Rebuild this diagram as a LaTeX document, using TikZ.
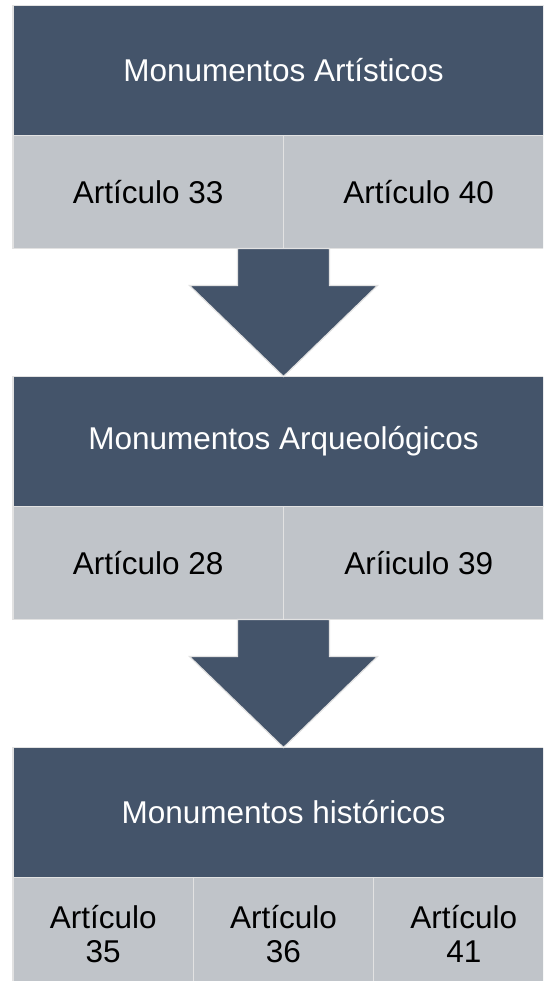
\documentclass[tikz,border=0pt]{standalone}
\usepackage{fontspec}
\setmainfont{Liberation Sans}
\usetikzlibrary{calc,positioning}
\definecolor{slate}{HTML}{44546A}
\definecolor{cellgray}{HTML}{C0C4C9}
\definecolor{edgegray}{HTML}{E2E2E2}
\begin{document}
\begin{tikzpicture}[x=1pt, y=1pt,
    heading/.style={rectangle, fill=slate, draw=edgegray, line width=1.5pt, text=white,
      minimum width=541pt, minimum height=130pt, inner sep=0pt, outer sep=0pt,
      font=\fontsize{31.5}{34}\selectfont},
    cell/.style={rectangle, fill=cellgray, draw=edgegray, line width=1.5pt, text=black,
      minimum height=113pt, inner sep=0pt, outer sep=0pt, align=center,
      font=\fontsize{31.5}{34}\selectfont},
    blockarrow/.style={fill=slate, draw=edgegray, line width=1.2pt, line join=miter}]
    \useasboundingbox (0,0) rectangle (543,-981);
    \clip (0,0) rectangle (543,-981);
    % three groups of monuments, each with its articles, joined by block arrows
    \node[heading] (mA) at (283.5,-70.5) {Monumentos Artísticos};
    \node[cell, minimum width=270.5pt, anchor=north west] (a33) at (mA.south west) {Artículo 33};
    \node[cell, minimum width=270.5pt, anchor=north west] (a40) at (a33.north east) {Artículo 40};
    \node[heading, below=128pt of a33.south east] (mB) {Monumentos Arqueológicos};
    \node[cell, minimum width=270.5pt, anchor=north west] (a28) at (mB.south west) {Artículo 28};
    \node[cell, minimum width=270.5pt, anchor=north west] (a39) at (a28.north east) {Aríiculo 39};
    \node[heading, below=128pt of a28.south east] (mC) {Monumentos históricos};
    \node[cell, minimum width=180.33pt, anchor=north west] (a35) at (mC.south west) {Artículo\\35};
    \node[cell, minimum width=180.33pt, anchor=north west] (a36) at (a35.north east) {Artículo\\36};
    \node[cell, minimum width=180.33pt, anchor=north west] (a41) at (a36.north east) {Artículo\\41};
    \draw[blockarrow] ($(a33.south east)+(-46,0)$) -- ++(0,-37) -- ++(-48,0) -- (mB.north)
      -- ($(a33.south east)+(94,-37)$) -- ++(-48,0) -- ++(0,37) -- cycle;
    \draw[blockarrow] ($(a28.south east)+(-46,0)$) -- ++(0,-37) -- ++(-48,0) -- (mC.north)
      -- ($(a28.south east)+(94,-37)$) -- ++(-48,0) -- ++(0,37) -- cycle;
\end{tikzpicture}
\end{document}
